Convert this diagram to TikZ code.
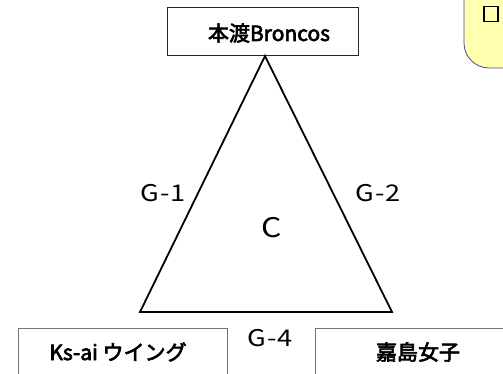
\documentclass[tikz,border=0pt]{standalone}
\usepackage{fontspec}
\setmainfont{Noto Sans CJK JP}[AutoFakeBold=3]
\newfontfamily\glfont{Noto Sans CJK JP}[FakeStretch=1.18]
\begin{document}
\begin{tikzpicture}[x=1pt,y=-1pt,
  team/.style={draw=black!55,line width=0.9pt,fill=white,inner sep=0pt},
  teamtext/.style={font=\bfseries\fontsize{21}{24}\selectfont,inner sep=0pt},
  glabel/.style={font=\glfont\fontsize{23}{26}\selectfont,inner sep=0pt},
  edge/.style={line width=1.8pt,line join=miter}]
\useasboundingbox (0,0) rectangle (503,374);
\clip (0,0) rectangle (503,374);
% callout
\draw[draw=black!30!blue!40!gray,line width=0.8pt,fill={rgb,255:red,255;green,255;blue,176}]
  (464,-20) -- (464,43) arc[start angle=180,end angle=90,radius=25] -- (520,68) -- (520,-20) -- cycle;
\node[draw=black,line width=1.3pt,minimum width=14pt,minimum height=15pt,inner sep=0pt] (chk) at (491,14) {};
% top team
\node[team,draw=black!85,minimum width=191pt,minimum height=48pt] (top) at (262.5,31) {};
\node[teamtext] (toptext) at (269,33) {本渡Broncos};
% triangle corners
\coordinate (A) at (265,56);
\coordinate (L) at (140,312);
\coordinate (R) at (392,312);
\draw[edge] (A) -- (L) -- (R) -- cycle;
% labels
\node[glabel] (g1) at (163,193) {G\kern1pt-\kern1pt1};
\node[glabel] (g2) at (378,193) {G\kern1pt-\kern1pt2};
\node[glabel,font=\glfont\fontsize{27}{30}\selectfont] (c) at (272,228) {C};
\node[glabel] (g4) at (270,338) {G\kern1pt-\kern1pt4};
% bottom teams
\node[team,minimum width=209pt,minimum height=60pt,anchor=north west] (bl) at (18,328) {};
\node[teamtext] (bltext) at (118,352) {Ks-ai ウイング};
\node[team,minimum width=200pt,minimum height=60pt,anchor=north west] (br) at (315,328) {};
\node[teamtext] (brtext) at (418,352) {嘉島女子};
\end{tikzpicture}
\end{document}
